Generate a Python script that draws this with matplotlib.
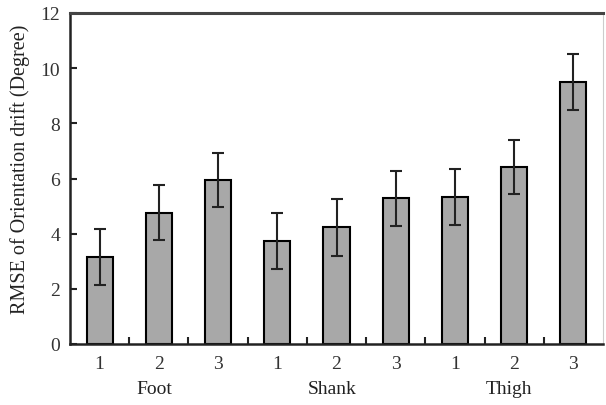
import matplotlib
matplotlib.use("Agg")
import matplotlib.pyplot as plt
import matplotlib.transforms as mtransforms

# Data
groups = ["Foot", "Shank", "Thigh"]
sensors = ["1", "2", "3", "1", "2", "3", "1", "2", "3"]
rmse = [3.15, 4.76, 5.96, 3.73, 4.23, 5.29, 5.34, 6.41, 9.50]
err = [1.01, 1.0, 0.98, 1.02, 1.03, 1.0, 1.01, 0.98, 1.03]

plt.rcParams['font.family'] = ['Liberation Serif', 'DejaVu Serif']

fig = plt.figure(figsize=(6.06, 4.06), dpi=100)
ax = fig.add_axes([70 / 606, 1 - 345 / 406, 533 / 606, 331 / 406])

x = list(range(1, len(rmse) + 1))
ax.bar(x, rmse, width=0.44, color="#a8a8a8", edgecolor="black", linewidth=1.5, zorder=2)
ax.errorbar(x, rmse, yerr=err, fmt="none", ecolor="#222222", elinewidth=1.5,
            capsize=4, capthick=1.5, zorder=3)

ax.set_xlim(0.5, 9.5)
ax.set_ylim(0, 12)
ax.set_yticks(range(0, 13, 2))
ax.set_xticks(x)
ax.set_xticklabels(sensors)
ax.set_xticks([i + 0.5 for i in x[:-1]], minor=True)

ax.tick_params(axis="x", which="major", length=0, pad=8, labelsize=14, labelcolor="#333333")
ax.tick_params(axis="x", which="minor", direction="in", length=5, width=1.5, color="#222222")
ax.tick_params(axis="y", direction="in", length=5, width=1.5, pad=7, labelsize=14,
               labelcolor="#333333", color="#222222")

for s in ["left", "bottom"]:
    ax.spines[s].set_linewidth(1.8)
    ax.spines[s].set_color("#222222")
ax.spines["top"].set_linewidth(2.2)
ax.spines["top"].set_color("#444444")
ax.spines["right"].set_linewidth(0.8)
ax.spines["right"].set_color("#cccccc")

ax.set_ylabel("RMSE of Orientation drift (Degree)", fontsize=14.5, color="#222222")
ax.yaxis.set_label_coords(-0.075, 0.53)

trans = mtransforms.blended_transform_factory(ax.transData, fig.transFigure)
for i, g in enumerate(groups):
    ax.text(x[3 * i + 1] - 0.08, 1 - 390 / 406, g, transform=trans, ha="center",
            va="center", fontsize=14, color="#222222")

fig.savefig("out.png", dpi=100)
